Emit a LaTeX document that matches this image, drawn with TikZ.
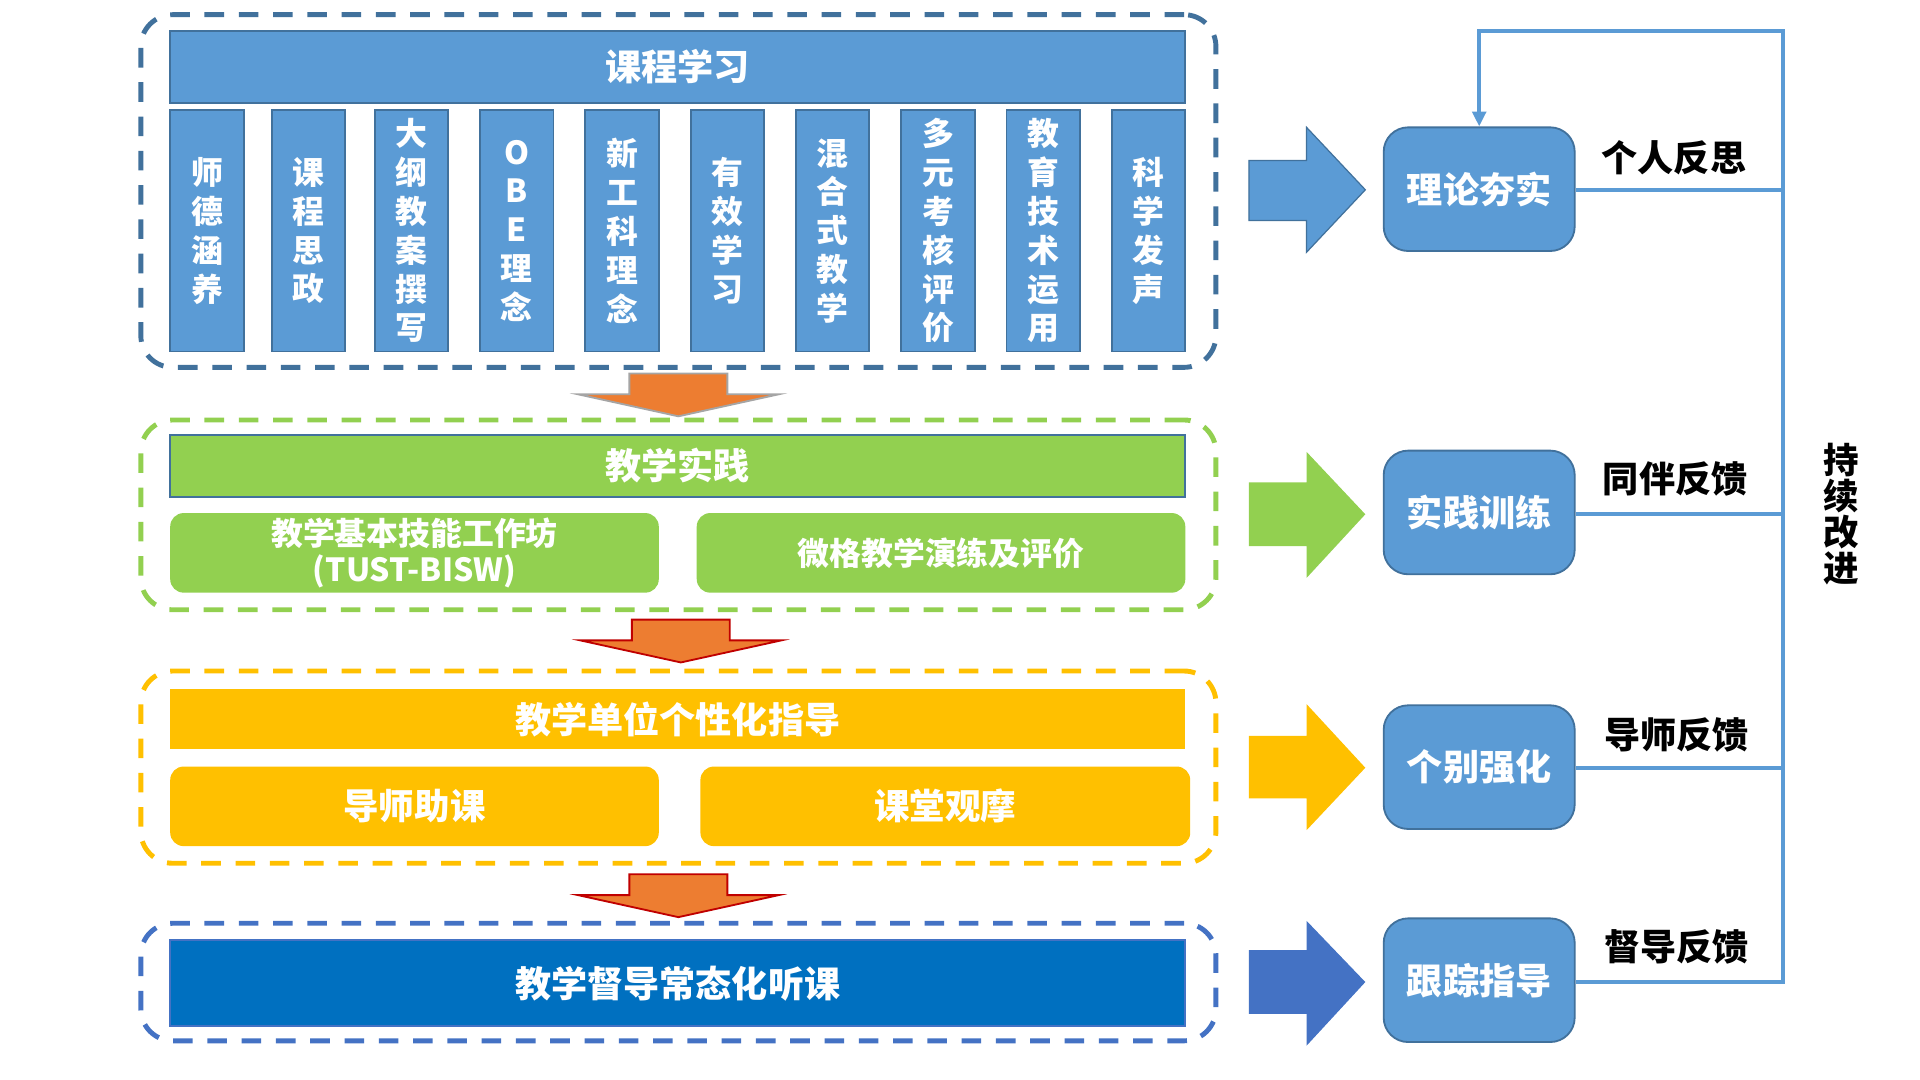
\documentclass[tikz,border=0pt]{standalone}
\usepackage{fontspec}
\setmainfont{Noto Sans CJK SC}
\usetikzlibrary{arrows.meta}
\definecolor{mblue}{HTML}{5B9BD5}
\definecolor{dblue}{HTML}{41719C}
\definecolor{mgreen}{HTML}{92D050}
\definecolor{myellow}{HTML}{FFC000}
\definecolor{rblue}{HTML}{4472C4}
\definecolor{sblue}{HTML}{0070C0}
\definecolor{morange}{HTML}{ED7D31}
\definecolor{dred}{HTML}{C00000}
\definecolor{agray}{HTML}{A5A5A5}
\tikzset{
  grp/.style={line width=4pt, dash pattern=on 16pt off 12pt, rounded corners=26pt, minimum width=878pt, inner sep=0pt},
  bar/.style={text=white, font=\bfseries\fontsize{29.5}{34}\selectfont, inner sep=0pt, align=center, minimum width=829pt},
  colbox/.style={draw=dblue, line width=1.5pt, fill=mblue, text=white, font=\bfseries\fontsize{26}{31.7}\selectfont, inner sep=0pt, align=center, minimum width=60pt, minimum height=197pt},
  subbox/.style={rounded corners=11pt, text=white, font=\bfseries\fontsize{26}{31}\selectfont, inner sep=0pt, align=center, minimum width=399pt, minimum height=65pt},
  rbox/.style={draw=dblue, line width=1.5pt, fill=mblue, rounded corners=20pt, text=white, font=\bfseries\fontsize{29.5}{34}\selectfont, minimum width=156pt, minimum height=101pt, inner sep=0pt},
  lab/.style={text=black, font=\bfseries\fontsize{29.5}{34}\selectfont, inner sep=0pt},
  fb/.style={draw=mblue, line width=3.3pt},
  bigarrow/.style={line width=1pt},
  darrow/.style={fill=morange, line width=1.5pt}
}
\begin{document}
\begin{tikzpicture}[x=1pt,y=-1pt]
\useasboundingbox (0,0) rectangle (1568,882);
\fill[white] (0,0) rectangle (1568,882);

% dashed groups
\node[grp, draw=dblue, minimum height=288pt] (g1) at (554,156) {};
\node[grp, draw=mgreen, minimum height=155pt] (g2) at (554,420.5) {};
\node[grp, draw=myellow, minimum height=157pt] (g3) at (554,626.5) {};
\node[grp, draw=rblue, minimum height=96pt] (g4) at (554,802) {};

% group 1
\node[bar, draw=dblue, line width=1.5pt, fill=mblue, minimum height=59pt] (t1) at (553.5,54.5) {课程学习};
\foreach \x/\t [count=\i] in {
  169/{师\\德\\涵\\养},
  252/{课\\程\\思\\政},
  336/{大\\纲\\教\\案\\撰\\写},
  422/{O\\B\\E\\理\\念},
  508/{新\\工\\科\\理\\念},
  594/{有\\效\\学\\习},
  680/{混\\合\\式\\教\\学},
  766/{多\\元\\考\\核\\评\\价},
  852/{教\\育\\技\\术\\运\\用},
  938/{科\\学\\发\\声}}
  \node[colbox] (c\i) at (\x,188.5) {\t};

% group 2
\node[bar, draw=dblue, line width=1.5pt, fill=mgreen, minimum height=51pt] (t2) at (553.5,380.5) {教学实践};
\node[subbox, fill=mgreen] (s2a) at (338.5,451.5) {教学基本技能工作坊\\[-1pt](TUST-BISW)};
\node[subbox, fill=mgreen] (s2b) at (768.5,451.5) {微格教学演练及评价};

% group 3
\node[bar, fill=myellow, minimum height=49pt] (t3) at (553.5,587.5) {教学单位个性化指导};
\node[subbox, fill=myellow, font=\bfseries\fontsize{29}{34}\selectfont] (s3a) at (338.5,658.5) {导师助课};
\node[subbox, fill=myellow, font=\bfseries\fontsize{29}{34}\selectfont, minimum width=400pt] (s3b) at (772,658.5) {课堂观摩};

% group 4
\node[bar, draw=rblue, line width=1.5pt, fill=sblue, minimum height=70pt] (t4) at (553.5,803) {教学督导常态化听课};

% orange down arrows
\draw[darrow, draw=agray] (514,305) -- (594,305) -- (594,322) -- (636,322) -- (554,340) -- (472,322) -- (514,322) -- cycle;
\draw[darrow, draw=dred] (516,506) -- (596,506) -- (596,523) -- (638,523) -- (556,541) -- (474,523) -- (516,523) -- cycle;
\draw[darrow, draw=dred] (514,714) -- (594,714) -- (594,731) -- (636,731) -- (554,749) -- (472,731) -- (514,731) -- cycle;

% big right arrows
\draw[bigarrow, fill=mblue, draw=dblue] (1020,131) -- (1067,131) -- (1067,104) -- (1115,155) -- (1067,206) -- (1067,180) -- (1020,180) -- cycle;
\fill[mgreen] (1020,394) -- (1067,394) -- (1067,369) -- (1115,420) -- (1067,472) -- (1067,446) -- (1020,446) -- cycle;
\fill[myellow] (1020,601) -- (1067,601) -- (1067,575) -- (1115,627) -- (1067,678) -- (1067,652) -- (1020,652) -- cycle;
\fill[rblue] (1020,776) -- (1067,776) -- (1067,752) -- (1115,802) -- (1067,854) -- (1067,828) -- (1020,828) -- cycle;

% right boxes
\node[rbox] (r1) at (1208,154.5) {理论夯实};
\node[rbox] (r2) at (1208,418.5) {实践训练};
\node[rbox] (r3) at (1208,626.5) {个别强化};
\node[rbox] (r4) at (1208,800.5) {跟踪指导};

% feedback lines
\coordinate (k1) at (1456,155);
\coordinate (k2) at (1456,420);
\coordinate (k3) at (1456,627);
\coordinate (k4) at (1456,802);
\coordinate (ktr) at (1456,25);
\coordinate (ktl) at (1208,25);
\draw[fb] (r1.east |- k1) -- (k1);
\draw[fb] (r2.east |- k2) -- (k2);
\draw[fb] (r3.east |- k3) -- (k3);
\draw[fb, -{Triangle[length=12pt,width=11pt]}] (r4.east |- k4) -- (k4) -- (ktr) -- (ktl) -- (r1.north);

% labels
\node[lab] (l1) at (1367,129) {个人反思};
\node[lab] (l2) at (1368,391) {同伴反馈};
\node[lab] (l3) at (1369,600) {导师反馈};
\node[lab] (l4) at (1369,773) {督导反馈};
\node[lab, align=center, font=\bfseries\fontsize{29}{29.5}\selectfont] (cz) at (1504,420) {持\\续\\改\\进};
\end{tikzpicture}
\end{document}
